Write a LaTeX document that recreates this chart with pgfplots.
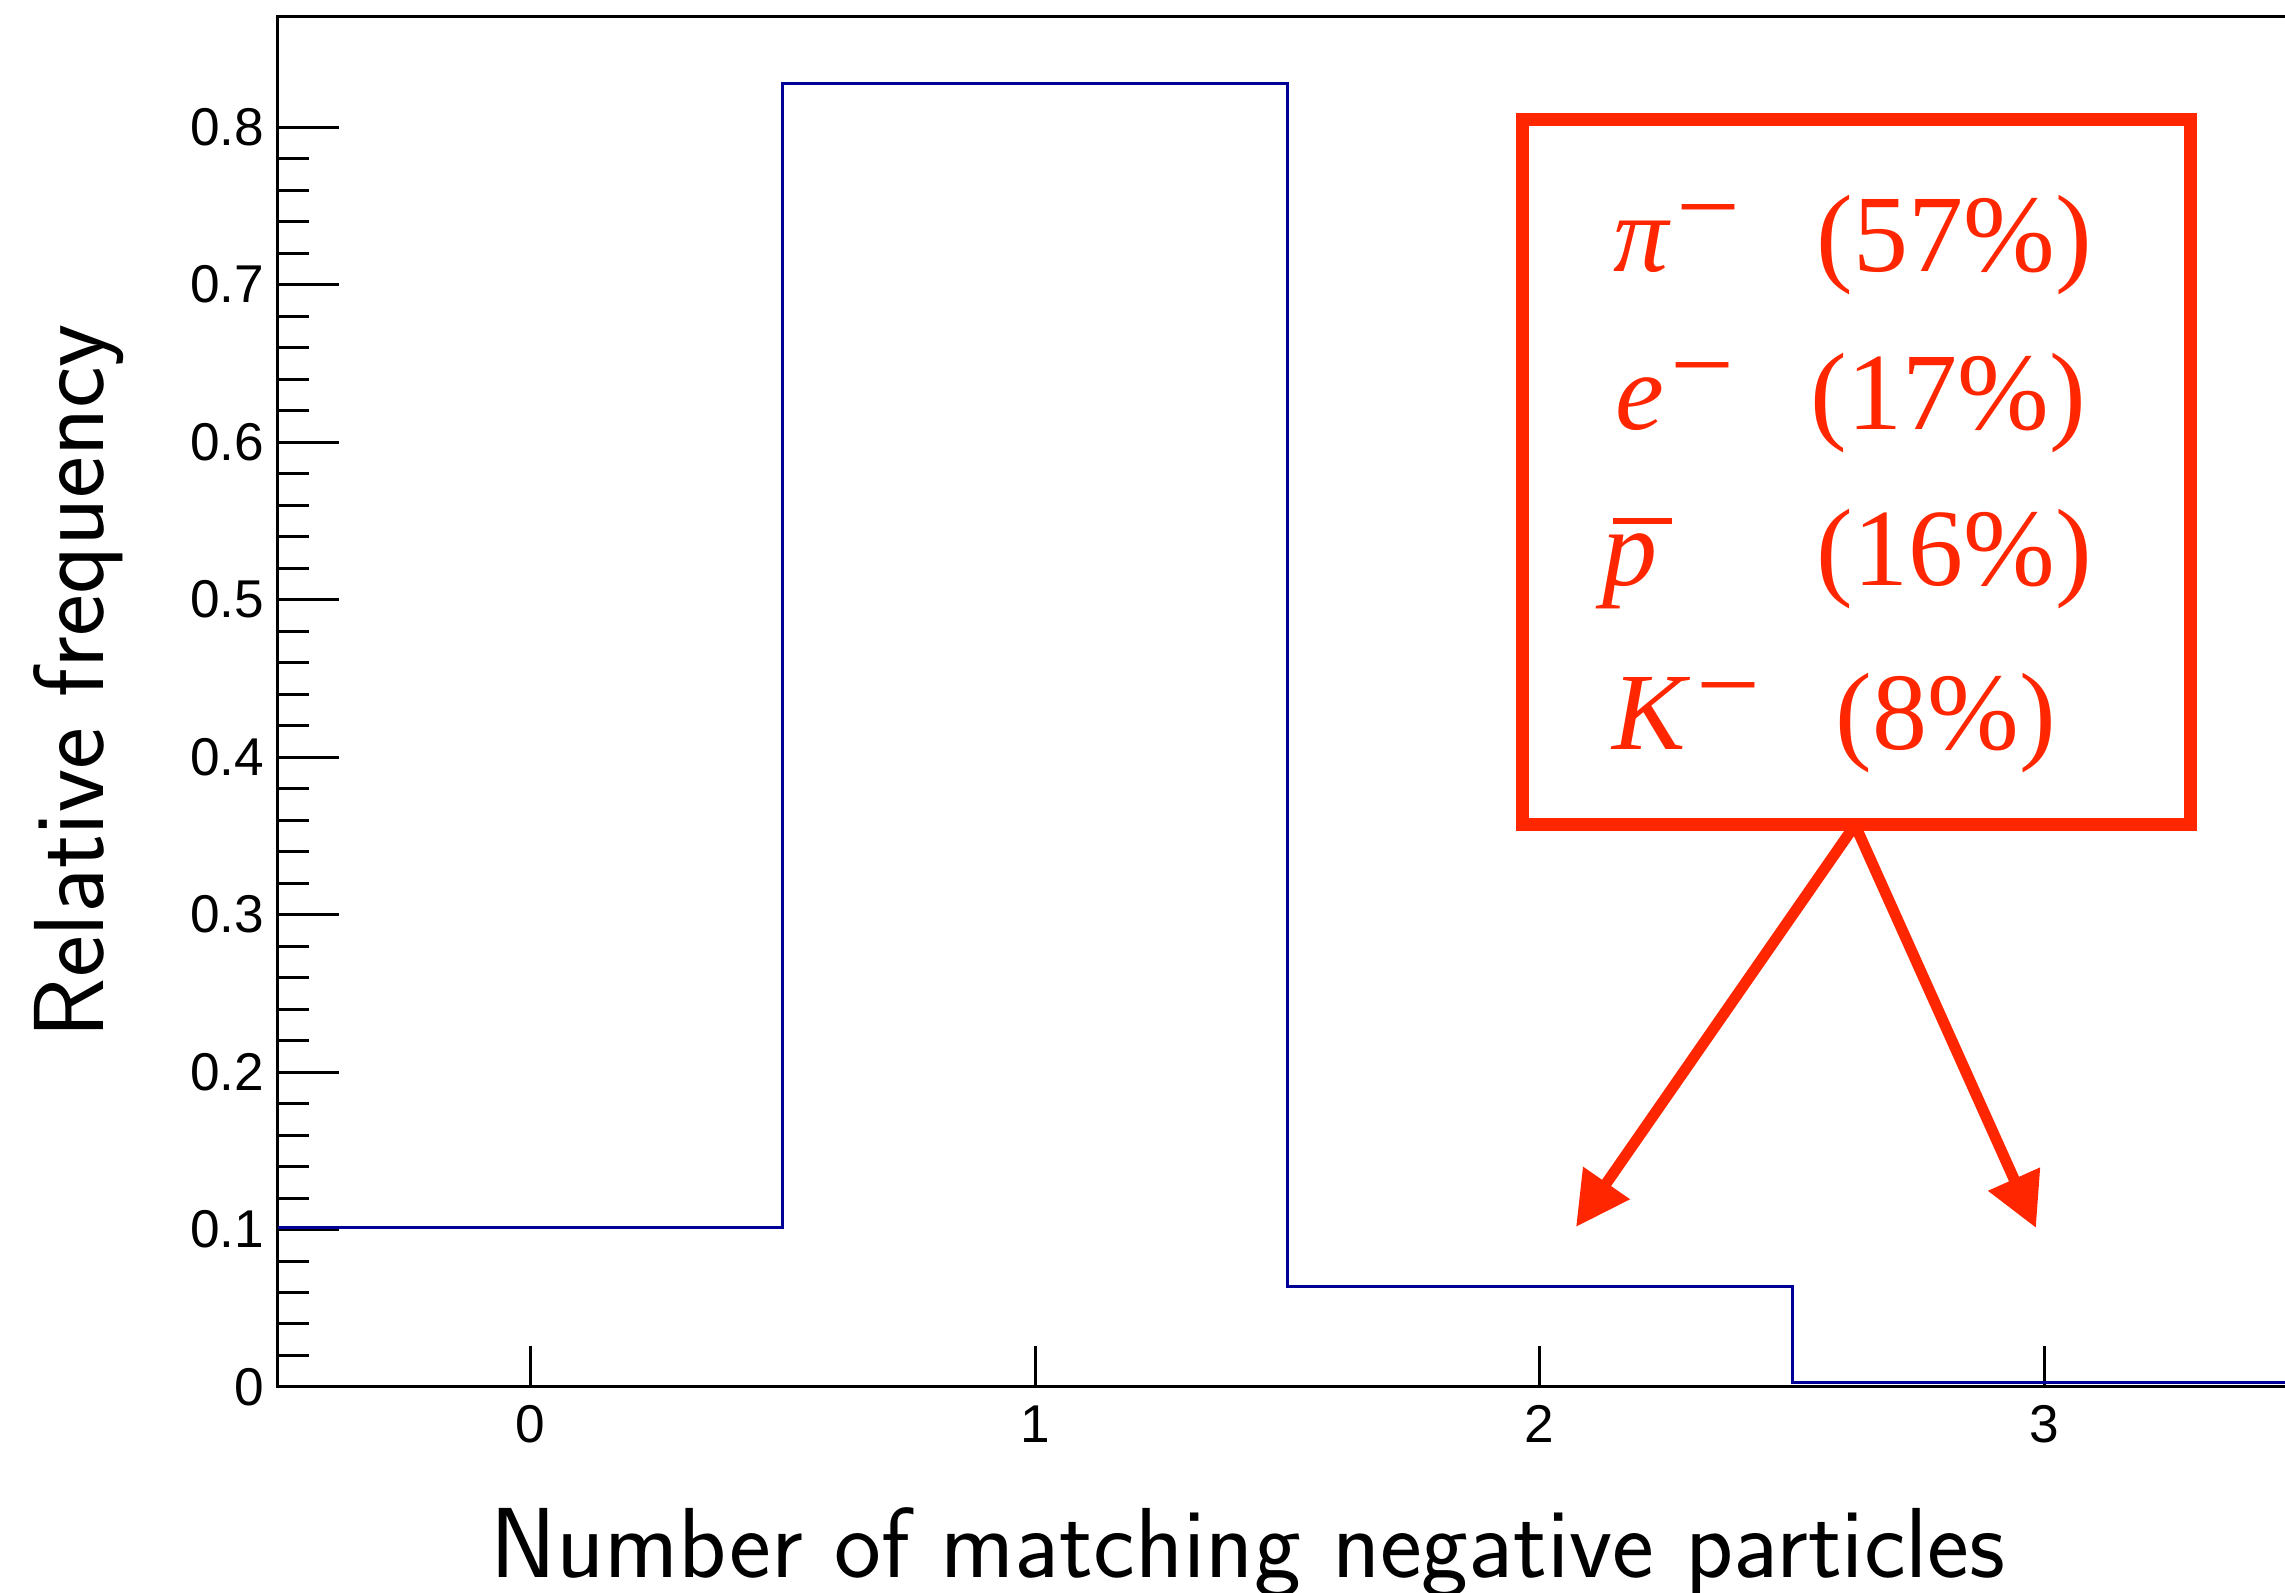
\documentclass[border=0pt]{standalone}
\usepackage{fontspec}
\usepackage{graphicx}
\usepackage{pgfplots}
\pgfplotsset{compat=1.18}
\usetikzlibrary{arrows.meta}
\newfontfamily\ticksfont{Liberation Sans}
\newfontfamily\boxfont{Liberation Serif}
\definecolor{histblue}{RGB}{0,0,150}
\definecolor{annred}{RGB}{255,38,0}
\newcommand{\supminus}{{\fontsize{21}{21}\selectfont\raisebox{7.2pt}{\scalebox{1.35}[1.3]{−}}}}
\begin{document}
\begin{tikzpicture}
\begin{axis}[
  at={(69.5pt,51.5pt)}, anchor=south west,
  scale only axis, width=504.7pt, height=342.5pt,
  xmin=-0.5, xmax=3.5, ymin=0, ymax=0.87,
  axis line style={line width=0.75pt},
  every tick/.style={black, line width=0.75pt},
  tick align=inside, tick pos=left,
  xtick={0,1,2,3},
  ytick={0,0.1,0.2,0.3,0.4,0.5,0.6,0.7,0.8},
  minor y tick num=4,
  major tick length=15.25pt, minor tick length=7.75pt,
  xtick style={/pgfplots/major tick length=10.25pt},
  /pgf/number format/assume math mode=true,
  ticklabel style={font=\ticksfont\fontsize{13.3}{16}\selectfont},
  yticklabel style={anchor=east, inner sep=0pt, xshift=-3.25pt},
  xticklabel style={anchor=north, inner sep=0pt, yshift=-4.5pt},
  every axis x label/.style={at={(axis description cs:0.4804,-0.1394)}, anchor=base},
  every axis y label/.style={at={(axis description cs:-0.0862,0.5153)}, rotate=90, anchor=base},
  label style={font=\sffamily\fontsize{24.9}{29}\selectfont},
  xlabel={Number of matching negative particles},
  ylabel={Relative frequency},
]
\addplot[const plot mark left, histblue, line width=0.75pt] coordinates {
  (-0.5,0.101) (0.5,0.828) (1.5,0.064) (2.5,0.003) (3.5,0.003)
};
\end{axis}
% annotation box
\draw[annred, line width=3.25pt] (380.5pt,192pt) rectangle (547.5pt,368.25pt);
\draw[annred, line width=2.75pt, -{Triangle[length=13.4pt,width=13.5pt]}] (463.75pt,192pt) -- (394pt,91.5pt);
\draw[annred, line width=2.75pt, -{Triangle[length=13.4pt,width=13.5pt]}] (463.75pt,192pt) -- (509pt,91.25pt);
\begin{scope}[every node/.style={inner sep=0pt, anchor=base west, text=annred, font=\boxfont\fontsize{27.5}{30}\selectfont}]
\node at (403.25pt,330.25pt) {\textit{π}};
\node at (454pt,330.25pt) {(57\%)};
\node at (403.75pt,290.75pt) {\textit{e}};
\node at (452.5pt,290.75pt) {(17\%)};
\node at (400.5pt,251.75pt) {\textit{p}};
\node at (454pt,251.75pt) {(16\%)};
\node at (403pt,210.75pt) {\textit{K}};
\node at (458.75pt,210.75pt) {(8\%)};
\node at (419pt,330.25pt) {\supminus};
\node at (417.5pt,290.75pt) {\supminus};
\node at (424pt,210.75pt) {\supminus};
\end{scope}
\draw[annred, line width=1.6pt] (403.25pt,268pt) -- (418pt,268pt);
\pgfresetboundingbox
\useasboundingbox (0,0) rectangle (571.25pt,398.25pt);
\end{tikzpicture}
\end{document}
